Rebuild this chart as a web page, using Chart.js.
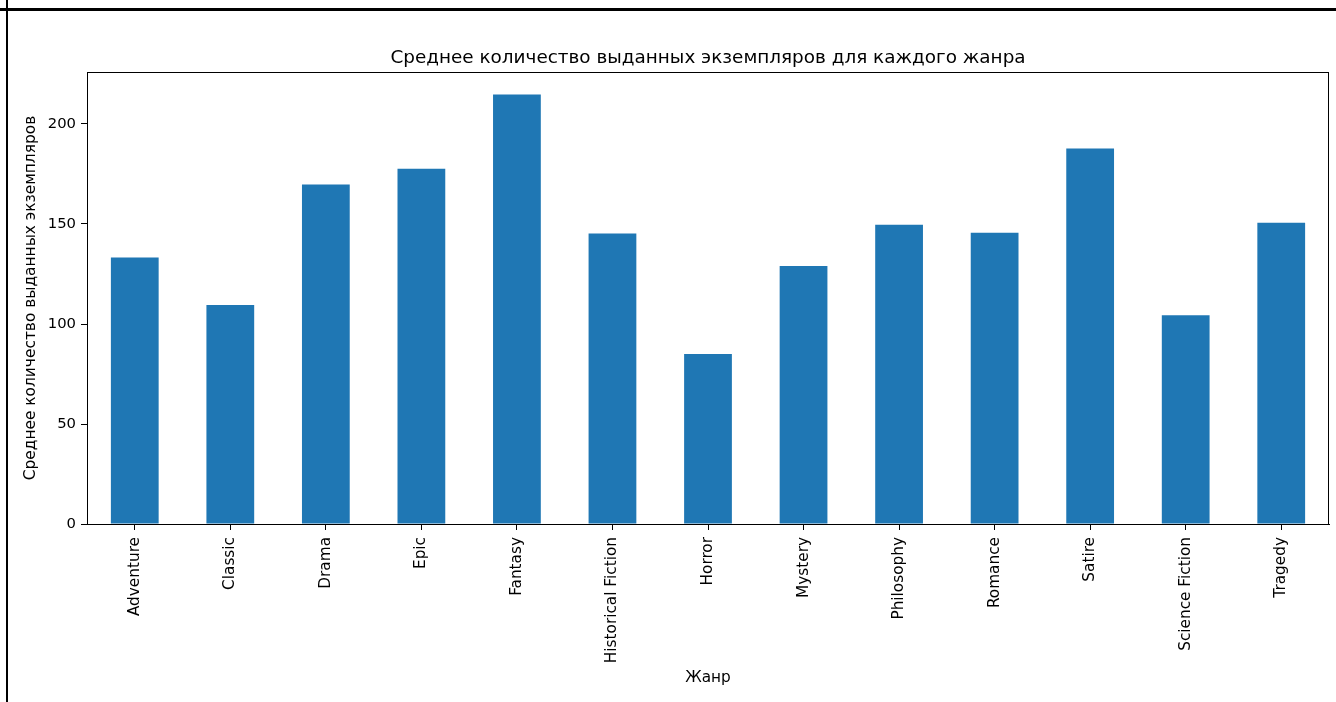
<!DOCTYPE html>
<html><head><meta charset="utf-8">
<script src="https://cdn.jsdelivr.net/npm/chart.js@4"></script>
<style>
html,body{margin:0;padding:0;background:#fff;overflow:hidden}
#wrap{position:relative;width:1336px;height:702px;background:#fff}
canvas{position:absolute;left:0;top:0}
#topline{position:absolute;left:0;top:8px;width:1336px;height:3px;background:#000}
#leftline{position:absolute;left:6px;top:0;width:2px;height:702px;background:#000}
</style></head><body>
<div id="wrap"><canvas id="c" width="1336" height="702"></canvas><div id="topline"></div><div id="leftline"></div></div>
<script>
const chartTitle = 'Среднее количество выданных экземпляров для каждого жанра';
const xTitle = 'Жанр';
const yTitle = 'Среднее количество выданных экземпляров';
const genres = ['Adventure','Classic','Drama','Epic','Fantasy','Historical Fiction','Horror','Mystery','Philosophy','Romance','Satire','Science Fiction','Tragedy'];
const avgIssued = [133.3,109.5,169.7,177.6,214.8,145.2,85.0,129.0,149.6,145.6,187.7,104.4,150.6];
const yTicks = [0,50,100,150,200];
const yMax = 226;

const FONT = "'DejaVu Sans', sans-serif";
Chart.defaults.font.family = FONT;
Chart.defaults.color = '#000';

const frame = {
  id:'frame',
  afterDraw(chart){
    const a = chart.chartArea, ctx = chart.ctx;
    ctx.save();
    ctx.strokeStyle = '#000'; ctx.lineWidth = 1;
    ctx.strokeRect(Math.round(a.left)+0.5, Math.round(a.top)+0.5, Math.round(a.right-a.left)-1, Math.round(a.bottom-a.top));
    ctx.fillStyle = '#000';
    ctx.font = '18.4px ' + FONT;
    ctx.textAlign = 'center';
    ctx.textBaseline = 'alphabetic';
    ctx.fillText(chartTitle, (a.left + a.right) / 2, 62.5);
    ctx.restore();
  }
};
const bg = {
  id:'bg',
  beforeDraw(chart){
    const ctx = chart.ctx; ctx.save(); ctx.fillStyle='#fff'; ctx.fillRect(0,0,chart.width,chart.height); ctx.restore();
  }
};

new Chart(document.getElementById('c'), {
  type:'bar',
  data:{labels:genres, datasets:[{data:avgIssued, backgroundColor:'#1f77b4', borderWidth:0, categoryPercentage:1, barPercentage:0.5}]},
  options:{
    responsive:false, animation:false, devicePixelRatio:1,
    layout:{padding:{top:72, left:0, right:7, bottom:0}},
    plugins:{ legend:{display:false}, tooltip:{enabled:false}, title:{display:false} },
    scales:{
      x:{
        grid:{display:true, drawOnChartArea:false, drawTicks:true, tickLength:6, color:'#000', offset:false},
        border:{display:true, color:'#000', width:1},
        ticks:{minRotation:90, maxRotation:90, autoSkip:false, font:{size:15.3}, color:'#000', padding:7},
        title:{display:true, text:xTitle, font:{size:15.3}, color:'#000', padding:{top:0,bottom:15}},
        afterFit(s){ s.height = 178; }
      },
      y:{
        min:0, max:yMax,
        afterBuildTicks(s){ s.ticks = yTicks.map(v=>({value:v})); },
        grid:{display:true, drawOnChartArea:false, drawTicks:true, tickLength:6, color:'#000'},
        border:{display:true, color:'#000', width:1},
        ticks:{font:{size:14.8}, color:'#000', padding:5},
        title:{display:true, text:yTitle, font:{size:15.4}, color:'#000', padding:{top:22,bottom:0}},
        afterFit(s){ s.width = 87; }
      }
    }
  },
  plugins:[bg, frame]
});
</script>
</body></html>
